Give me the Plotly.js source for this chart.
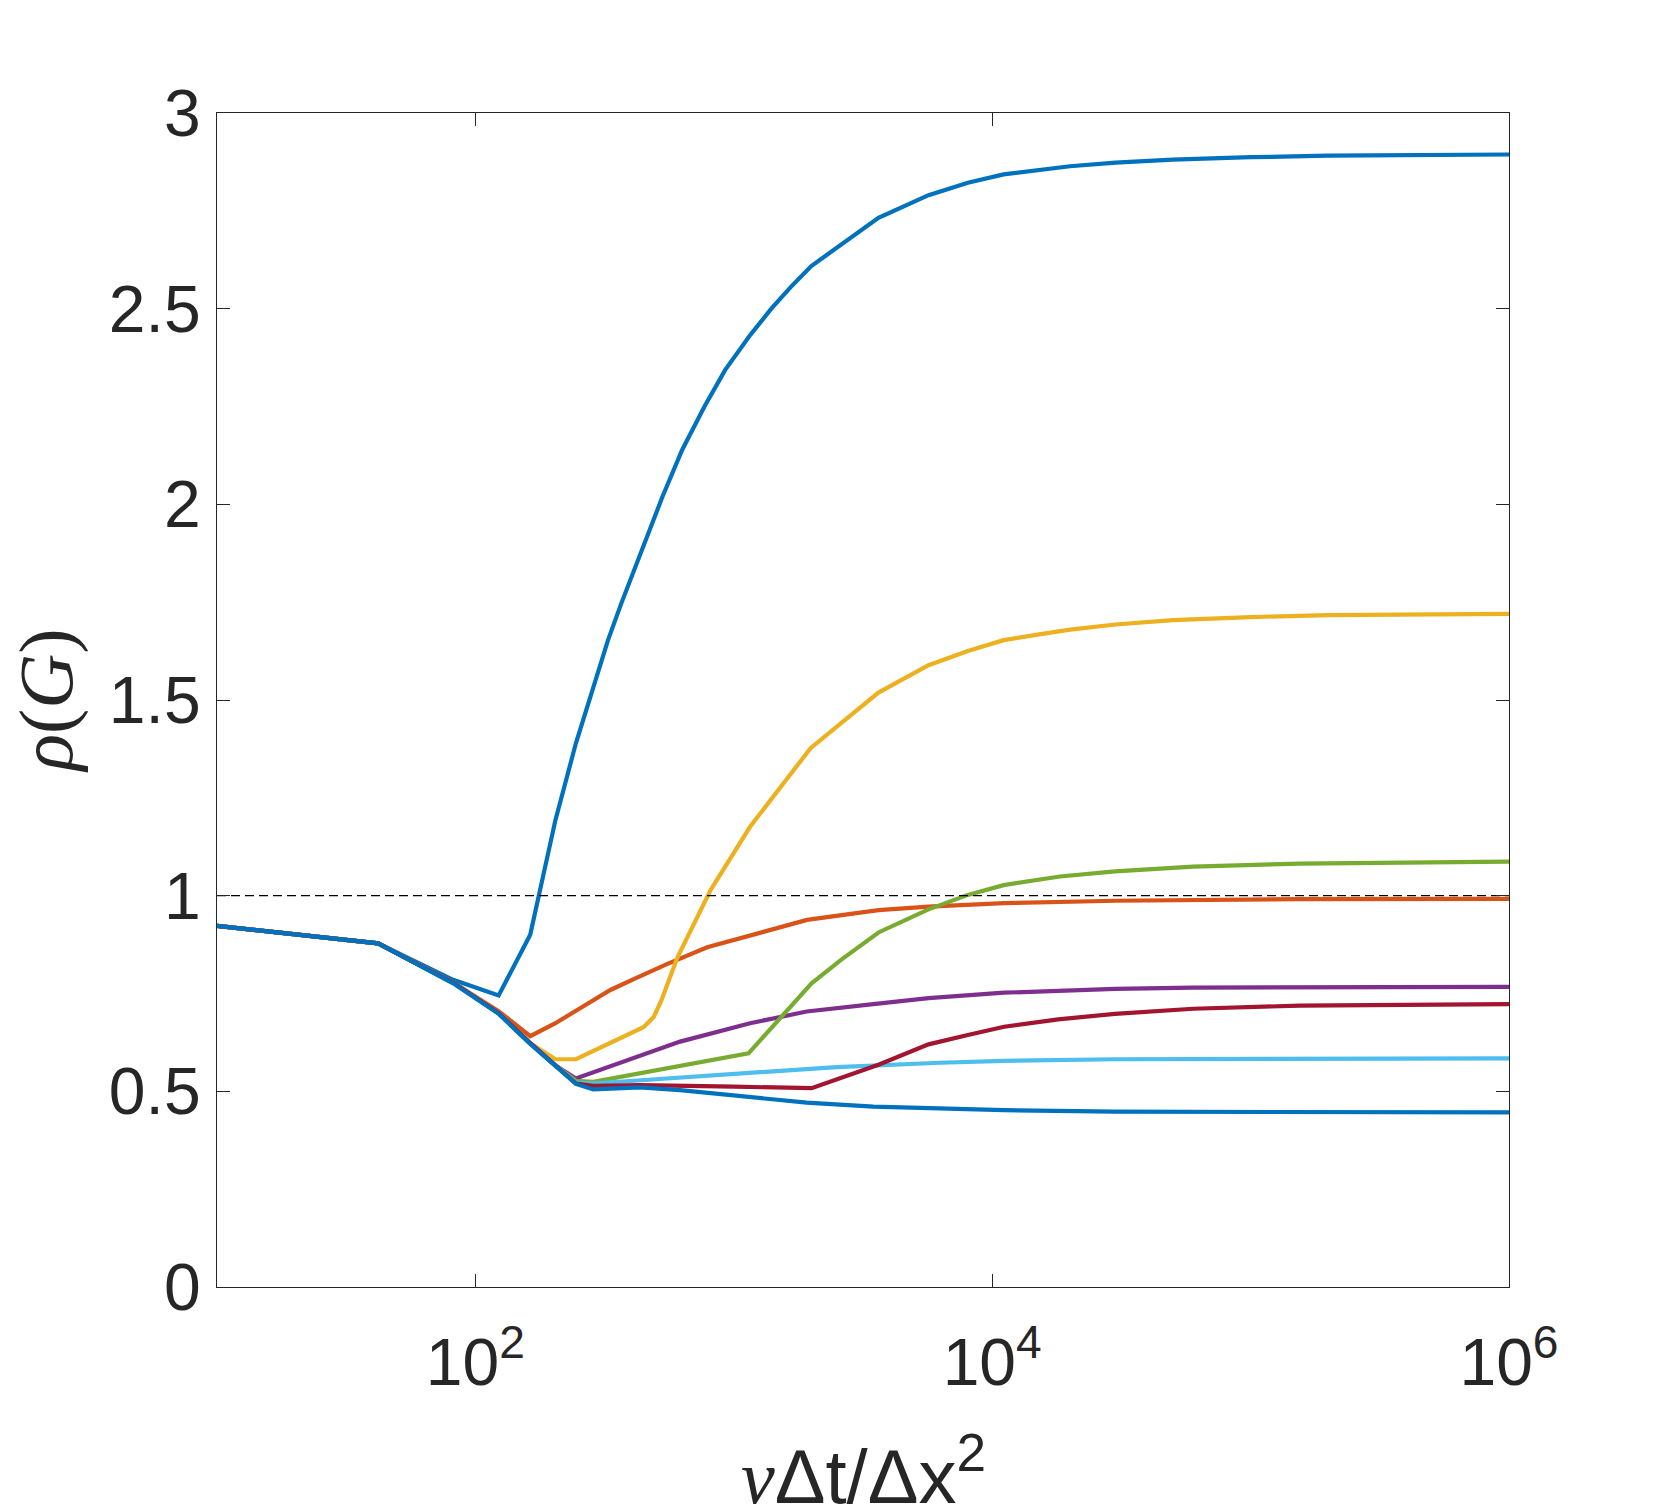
<!DOCTYPE html>
<html>
<head>
<meta charset="utf-8">
<script src="https://cdn.plot.ly/plotly-3.0.1.min.js"></script>
<style>
  html, body { margin: 0; padding: 0; background: #fff; }
  #chart { width: 1667px; height: 1512px; }
</style>
</head>
<body>
<div id="chart"></div>
<script>
    'use strict';

    // Spectral radius curves
    const xBlueTop = [10, 42, 82, 123, 163, 204, 245, 286, 326, 367, 439, 530, 631, 770, 925, 1150, 1397, 1660, 1995, 3630, 5670, 8050, 11070, 15000, 20000, 30000, 50000, 100000, 200000, 1000000];
    const yBlueTop = [0.923, 0.878, 0.785, 0.745, 0.900, 1.193, 1.390, 1.534, 1.653, 1.747, 1.883, 2.020, 2.139, 2.250, 2.343, 2.430, 2.500, 2.555, 2.609, 2.732, 2.790, 2.822, 2.843, 2.855, 2.864, 2.873, 2.881, 2.887, 2.891, 2.894];

    const xOrange = [10, 42, 82, 123, 163, 204, 245, 333, 420, 551, 789, 1919, 3630, 5670, 11120, 29850, 155000, 1000000];
    const yOrange = [0.923, 0.878, 0.778, 0.705, 0.641, 0.674, 0.706, 0.759, 0.790, 0.825, 0.868, 0.938, 0.963, 0.972, 0.981, 0.987, 0.991, 0.992];

    const xYellow = [10, 42, 82, 123, 163, 204, 245, 447, 490, 525, 603, 700, 814, 1156, 1982, 3630, 5670, 8050, 11070, 15000, 20000, 30000, 50000, 100000, 200000, 1000000];
    const yYellow = [0.923, 0.878, 0.778, 0.700, 0.623, 0.582, 0.582, 0.664, 0.690, 0.733, 0.840, 0.930, 1.015, 1.176, 1.377, 1.519, 1.589, 1.625, 1.653, 1.667, 1.680, 1.693, 1.704, 1.712, 1.717, 1.720];

    const xPurple = [10, 42, 82, 123, 163, 204, 245, 400, 620, 1156, 1914, 3467, 5670, 11120, 29850, 60000, 155000, 1000000];
    const yPurple = [0.923, 0.878, 0.778, 0.700, 0.623, 0.566, 0.533, 0.583, 0.627, 0.674, 0.704, 0.723, 0.738, 0.752, 0.762, 0.765, 0.766, 0.767];

    const xGreen = [10, 42, 82, 123, 163, 204, 245, 286, 1140, 2000, 2600, 3630, 5670, 8050, 11070, 18290, 29850, 60000, 155000, 1000000];
    const yGreen = [0.923, 0.878, 0.778, 0.700, 0.623, 0.566, 0.527, 0.524, 0.597, 0.776, 0.836, 0.906, 0.965, 1.002, 1.027, 1.049, 1.062, 1.074, 1.082, 1.087];

    const xLightBlue = [10, 42, 82, 123, 163, 204, 245, 286, 1057, 2500, 6280, 11120, 29850, 155000, 1000000];
    const yLightBlue = [0.923, 0.878, 0.778, 0.700, 0.623, 0.566, 0.522, 0.520, 0.546, 0.562, 0.573, 0.578, 0.582, 0.583, 0.584];

    const xRed = [10, 42, 82, 123, 163, 204, 245, 286, 433, 1000, 2000, 3630, 5670, 8050, 11120, 18000, 29850, 60000, 155000, 1000000];
    const yRed = [0.923, 0.878, 0.778, 0.700, 0.623, 0.566, 0.520, 0.514, 0.516, 0.512, 0.508, 0.568, 0.620, 0.644, 0.665, 0.684, 0.698, 0.711, 0.719, 0.723];

    const xBlueLow = [10, 42, 82, 123, 163, 204, 245, 286, 433, 620, 1120, 1914, 3467, 6280, 11120, 29850, 1000000];
    const yBlueLow = [0.923, 0.878, 0.776, 0.698, 0.621, 0.564, 0.519, 0.505, 0.510, 0.503, 0.486, 0.471, 0.461, 0.456, 0.452, 0.448, 0.446];

    // Stability limit rho = 1
    const xLimit = [10, 1000000];
    const yLimit = [1, 1];

    const xTickVals = [100, 10000, 1000000];
    const xTickText = ['10<sup>2</sup>', '10<sup>4</sup>', '10<sup>6</sup>'];
    const yTickVals = [0, 0.5, 1, 1.5, 2, 2.5, 3];
    const yTickText = ['0', '0.5', '1', '1.5', '2', '2.5', '3'];

    const series = [
        { x: xBlueTop, y: yBlueTop, color: '#0072BD' },
        { x: xOrange, y: yOrange, color: '#D95319' },
        { x: xYellow, y: yYellow, color: '#EDB120' },
        { x: xPurple, y: yPurple, color: '#7E2F8E' },
        { x: xGreen, y: yGreen, color: '#77AC30' },
        { x: xLightBlue, y: yLightBlue, color: '#4DBEEE' },
        { x: xRed, y: yRed, color: '#A2142F' },
        { x: xBlueLow, y: yBlueLow, color: '#0072BD' }
    ];

    const traces = series.map(s => ({
        x: s.x,
        y: s.y,
        type: 'scatter',
        mode: 'lines',
        line: { color: s.color, width: 4.2 },
        hoverinfo: 'skip'
    }));

    traces.push({
        x: xLimit,
        y: yLimit,
        type: 'scatter',
        mode: 'lines',
        line: { color: '#000000', width: 1.3, dash: '9px,5px' },
        hoverinfo: 'skip'
    });

    const axisColor = '#262626';
    const tickFont = { family: 'Liberation Sans, Arial, sans-serif', size: 66, color: axisColor };

    const layout = {
        width: 1667,
        height: 1512,
        margin: { l: 217, r: 158, t: 113, b: 225 },
        paper_bgcolor: '#ffffff',
        plot_bgcolor: '#ffffff',
        showlegend: false,
        xaxis: {
            type: 'log',
            range: [1, 6],
            tickvals: xTickVals,
            ticktext: xTickText,
            ticks: 'inside',
            ticklen: 13,
            tickwidth: 1,
            tickcolor: axisColor,
            ticklabelstandoff: 18,
            showline: true,
            linecolor: axisColor,
            linewidth: 1.2,
            mirror: 'ticks',
            showgrid: false,
            zeroline: false,
            tickfont: tickFont
        },
        yaxis: {
            range: [0, 3],
            tickvals: yTickVals,
            ticktext: yTickText,
            ticks: 'inside',
            ticklen: 13,
            tickwidth: 1,
            tickcolor: axisColor,
            ticklabelstandoff: 2,
            showline: true,
            linecolor: axisColor,
            linewidth: 1.2,
            mirror: 'ticks',
            showgrid: false,
            zeroline: false,
            tickfont: tickFont
        },
        annotations: [
            {
                xref: 'paper', yref: 'paper',
                x: 0.5, y: -0.1567,
                xanchor: 'center', yanchor: 'middle',
                showarrow: false,
                text: '<span style="font-family:Liberation Serif"><i>ν</i></span>Δt/Δx<sup>2</sup>',
                font: { family: 'Liberation Sans, Arial, sans-serif', size: 76, color: axisColor }
            },
            {
                xref: 'paper', yref: 'paper',
                x: -0.132, y: 0.5,
                xanchor: 'center', yanchor: 'middle',
                textangle: -90,
                showarrow: false,
                text: '<i>ρ</i>(<i>G</i>)',
                font: { family: 'Liberation Serif, DejaVu Serif, serif', size: 76, color: axisColor }
            }
        ]
    };

    Plotly.newPlot('chart', traces, layout, { displayModeBar: false, staticPlot: true });
</script>
</body>
</html>
